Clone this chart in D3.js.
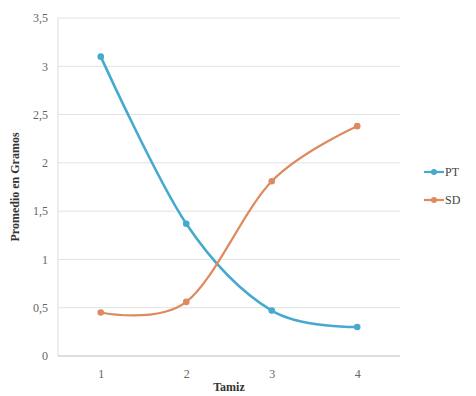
<!DOCTYPE html>
<html>
<head>
<meta charset="utf-8">
<script src="https://cdn.jsdelivr.net/npm/d3@7"></script>
<style>
  html, body { margin: 0; padding: 0; background: #fff; }
  svg { display: block; }
  svg text { font-family: "Liberation Serif", "DejaVu Serif", serif; }
</style>
</head>
<body>
<svg id="chart" width="476" height="396"></svg>
<script>
// Sieve number (Tamiz) and mean weight in grams per series
const categories = [1, 2, 3, 4];
const ptValues = [3.1, 1.37, 0.47, 0.3];
const sdValues = [0.45, 0.56, 1.81, 2.38];
const yTicks = [0, 0.5, 1, 1.5, 2, 2.5, 3, 3.5];
const yTickLabels = ["0", "0,5", "1", "1,5", "2", "2,5", "3", "3,5"];
const seriesNames = ["PT", "SD"];
const seriesColors = ["#45aace", "#df8a5e"];

const svg = d3.select("#chart");
const margin = { left: 58, right: 76, top: 18, bottom: 40 };
const W = 476, H = 396;
const serif = "'Liberation Serif', 'DejaVu Serif', serif";

const x = d3.scalePoint()
  .domain(categories)
  .range([margin.left, W - margin.right])
  .padding(0.5);
const y = d3.scaleLinear()
  .domain([0, 3.5])
  .range([H - margin.bottom, margin.top]);

// horizontal gridlines
svg.append("g")
  .selectAll("line")
  .data(yTicks.slice(1))
  .join("line")
  .attr("x1", margin.left).attr("x2", W - margin.right)
  .attr("y1", d => y(d)).attr("y2", d => y(d))
  .attr("stroke", "#e2e2e2").attr("stroke-width", 1);

// left axis line
svg.append("line")
  .attr("x1", margin.left).attr("x2", margin.left)
  .attr("y1", y(3.5)).attr("y2", y(0))
  .attr("stroke", "#dcdcdc");

// y axis labels
const yAxis = d3.axisLeft(y).tickValues(yTicks)
  .tickFormat((d, i) => yTickLabels[i]).tickSize(0).tickPadding(10);
const gy = svg.append("g").attr("transform", `translate(${margin.left},0)`).call(yAxis)
  .attr("font-family", serif).attr("font-size", 12);
gy.select(".domain").remove();
gy.selectAll("text").attr("fill", "#666");

// x axis
const xAxis = d3.axisBottom(x).tickSize(0).tickPadding(13);
const gx = svg.append("g").attr("transform", `translate(0,${y(0)})`).call(xAxis)
  .attr("font-family", serif).attr("font-size", 12);
gx.select(".domain").attr("stroke", "#bdbdbd").attr("d", `M${margin.left},0H${W - margin.right}`);
gx.selectAll("text").attr("fill", "#666");

// axis titles
svg.append("text")
  .attr("x", x(2) + (x(3) - x(2)) / 2).attr("y", 391)
  .attr("text-anchor", "middle")
  .attr("font-family", serif)
  .attr("font-weight", "bold").attr("font-size", 12).attr("fill", "#333")
  .text("Tamiz");
svg.append("text")
  .attr("transform", `translate(19,${(y(0) + y(3.5)) / 2}) rotate(-90)`)
  .attr("text-anchor", "middle")
  .attr("font-family", serif)
  .attr("font-weight", "bold").attr("font-size", 12).attr("fill", "#333")
  .text("Promedio en Gramos");

// smoothed series lines with markers
const line = d3.line()
  .x((d, i) => x(categories[i]))
  .y(d => y(d))
  .curve(d3.curveCardinal.tension(0));

[ptValues, sdValues].forEach((vals, s) => {
  svg.append("path")
    .datum(vals)
    .attr("d", line)
    .attr("fill", "none")
    .attr("stroke", seriesColors[s])
    .attr("stroke-width", s === 0 ? 2.6 : 2.2);
  svg.append("g").selectAll("circle")
    .data(vals)
    .join("circle")
    .attr("cx", (d, i) => x(categories[i]))
    .attr("cy", d => y(d))
    .attr("r", 3.3)
    .attr("fill", seriesColors[s]);
});

// legend
const legend = svg.append("g");
seriesNames.forEach((name, s) => {
  const ly = 172 + s * 28;
  legend.append("line")
    .attr("x1", 424).attr("x2", 444).attr("y1", ly).attr("y2", ly)
    .attr("stroke", seriesColors[s]).attr("stroke-width", 2.2);
  legend.append("circle")
    .attr("cx", 434).attr("cy", ly).attr("r", 3)
    .attr("fill", seriesColors[s]);
  legend.append("text")
    .attr("x", 445).attr("y", ly + 4)
    .attr("font-family", serif)
    .attr("font-size", 12).attr("fill", "#444")
    .text(name);
});
</script>
</body>
</html>
